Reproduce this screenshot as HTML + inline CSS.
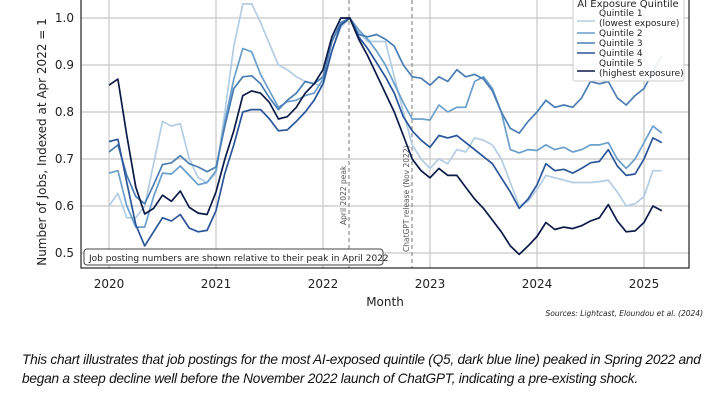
<!DOCTYPE html>
<html><head><meta charset="utf-8"><style>
body{margin:0;background:#fff;width:720px;height:405px;overflow:hidden;font-family:"DejaVu Sans","Liberation Sans",sans-serif}
svg{position:absolute;left:0;top:0}
.cap{position:absolute;left:22px;top:350px;font-family:"Liberation Sans",sans-serif;font-style:italic;font-size:13.7px;line-height:19px;color:#111;letter-spacing:-0.25px;white-space:nowrap}
</style></head><body>
<svg id="s" width="720" height="405" viewBox="0 0 720 405">
<g stroke="#c8c8c8" stroke-width="1.2" id="grid"></g>
<line x1="349" y1="0" x2="349" y2="268" stroke="#777" stroke-dasharray="4,3" stroke-width="1"/>
<line x1="412" y1="0" x2="412" y2="268" stroke="#777" stroke-dasharray="4,3" stroke-width="1"/>
<text transform="translate(346,225) rotate(-90)" font-size="7.5" fill="#555">April 2022 peak</text>
<text transform="translate(409,252) rotate(-90)" font-size="7.5" fill="#555">ChatGPT release (Nov 2022)</text>
<g id="lines" fill="none" stroke-width="1.7" stroke-linejoin="round"></g>
<rect x="81" y="-2" width="608" height="270" fill="none" stroke="#222" stroke-width="1.2"/>
<g id="ticks" font-size="12" fill="#222"></g>
<rect x="84" y="249" width="299" height="16" rx="3" fill="#fff" stroke="#444" stroke-width="1"/>
<text x="89" y="261" font-size="9" fill="#222">Job posting numbers are shown relative to their peak in April 2022</text>
<text transform="translate(46,142) rotate(-90)" font-size="12" text-anchor="middle" fill="#222">Number of Jobs, Indexed at Apr 2022 = 1</text>
<text x="385" y="306" font-size="12" text-anchor="middle" fill="#222">Month</text>
<text x="703" y="316" font-size="7.5" font-style="italic" text-anchor="end" fill="#222">Sources: Lightcast, Eloundou et al. (2024)</text>
<rect x="573" y="-5" width="111" height="86" rx="2" fill="#fff" fill-opacity="0.9" stroke="#ccc"/>
<text x="628" y="7" font-size="10" text-anchor="middle" fill="#222">AI Exposure Quintile</text>
<g font-size="9" fill="#222" id="leg"></g>
</svg>
<div class="cap">This chart illustrates that job postings for the most AI-exposed quintile (Q5, dark blue line) peaked in Spring 2022 and<br>began a steep decline well before the November 2022 launch of ChatGPT, indicating a pre-existing shock.</div>
<script>
const NS="http://www.w3.org/2000/svg";
function el(p,t,a,txt){const e=document.createElementNS(NS,t);for(const k in a)e.setAttribute(k,a[k]);if(txt)e.textContent=txt;p.appendChild(e);return e;}
const X=i=>109+i*107/12, Y=v=>18+(1-v)*470;
const g=document.getElementById('grid'),tk=document.getElementById('ticks');
for(let y=0;y<6;y++){el(g,'line',{x1:109+y*107,y1:0,x2:109+y*107,y2:268});el(tk,'text',{x:109+y*107,y:288,'text-anchor':'middle'},String(2020+y));}
[0.5,0.6,0.7,0.8,0.9,1.0].forEach(v=>{el(g,'line',{x1:81,y1:Y(v),x2:689,y2:Y(v)});el(tk,'text',{x:74,y:Y(v)+4,'text-anchor':'end'},v.toFixed(1));});
const D=[
["#b3cde3",[0.60,0.627,0.575,0.575,0.60,0.69,0.78,0.77,0.775,0.70,0.66,0.65,0.67,0.80,0.94,1.03,1.03,0.99,0.945,0.90,0.89,0.875,0.865,0.86,0.855,0.93,0.98,1.0,0.97,0.95,0.95,0.95,0.875,0.80,0.73,0.70,0.68,0.70,0.69,0.72,0.715,0.745,0.74,0.73,0.70,0.65,0.60,0.61,0.635,0.665,0.66,0.655,0.65,0.65,0.65,0.652,0.655,0.63,0.60,0.605,0.62,0.675,0.675]],
["#6a9ecb",[0.67,0.675,0.60,0.555,0.555,0.62,0.67,0.668,0.685,0.665,0.645,0.65,0.675,0.78,0.87,0.935,0.928,0.88,0.845,0.81,0.822,0.825,0.835,0.84,0.87,0.95,0.99,1.0,0.975,0.955,0.93,0.90,0.86,0.82,0.785,0.785,0.783,0.815,0.80,0.81,0.81,0.865,0.875,0.85,0.80,0.72,0.713,0.72,0.718,0.73,0.72,0.725,0.715,0.72,0.73,0.73,0.735,0.70,0.68,0.70,0.735,0.77,0.755]],
["#4a7db3",[0.715,0.73,0.665,0.62,0.605,0.645,0.688,0.692,0.707,0.69,0.683,0.673,0.683,0.77,0.85,0.875,0.877,0.86,0.83,0.805,0.825,0.84,0.865,0.86,0.875,0.95,0.99,1.0,0.965,0.96,0.965,0.955,0.94,0.90,0.875,0.872,0.857,0.875,0.865,0.89,0.875,0.88,0.87,0.845,0.80,0.765,0.755,0.78,0.80,0.825,0.81,0.815,0.81,0.83,0.865,0.86,0.865,0.83,0.815,0.835,0.85,0.885,0.92]],
["#2a5599",[0.737,0.742,0.65,0.56,0.515,0.545,0.575,0.568,0.582,0.553,0.545,0.548,0.59,0.67,0.73,0.80,0.805,0.805,0.785,0.76,0.762,0.78,0.80,0.825,0.86,0.93,0.985,1.0,0.96,0.935,0.905,0.875,0.84,0.79,0.76,0.74,0.725,0.75,0.745,0.75,0.735,0.72,0.705,0.69,0.66,0.63,0.595,0.615,0.645,0.69,0.675,0.678,0.67,0.68,0.692,0.695,0.72,0.685,0.665,0.668,0.70,0.745,0.735]],
["#0c1a48",[0.857,0.87,0.75,0.64,0.583,0.595,0.623,0.61,0.632,0.597,0.585,0.582,0.63,0.70,0.76,0.835,0.845,0.84,0.82,0.785,0.79,0.81,0.84,0.86,0.89,0.96,1.0,1.0,0.955,0.92,0.88,0.84,0.80,0.75,0.70,0.675,0.66,0.68,0.665,0.665,0.64,0.615,0.595,0.57,0.545,0.515,0.497,0.515,0.535,0.565,0.55,0.555,0.552,0.558,0.568,0.575,0.603,0.568,0.545,0.547,0.565,0.60,0.59]]];
const L=document.getElementById('lines');
D.forEach(([c,v])=>el(L,'polyline',{stroke:c,points:v.map((d,i)=>X(i).toFixed(1)+','+Y(d).toFixed(1)).join(' ')}));
const lg=document.getElementById('leg');
const ent=[[0,16,"Quintile 1"],[null,26,"(lowest exposure)"],[1,36,"Quintile 2"],[2,46,"Quintile 3"],[3,56,"Quintile 4"],[4,66,"Quintile 5"],[null,76,"(highest exposure)"]];
ent.forEach(([k,y,t])=>{if(k!==null)el(lg,'line',{x1:577,y1:(k==0||k==4)?y+5:y-3,x2:595,y2:(k==0||k==4)?y+5:y-3,stroke:D[k][0],'stroke-width':1.6});el(lg,'text',{x:599,y:y},t);});
</script>
</body></html>
